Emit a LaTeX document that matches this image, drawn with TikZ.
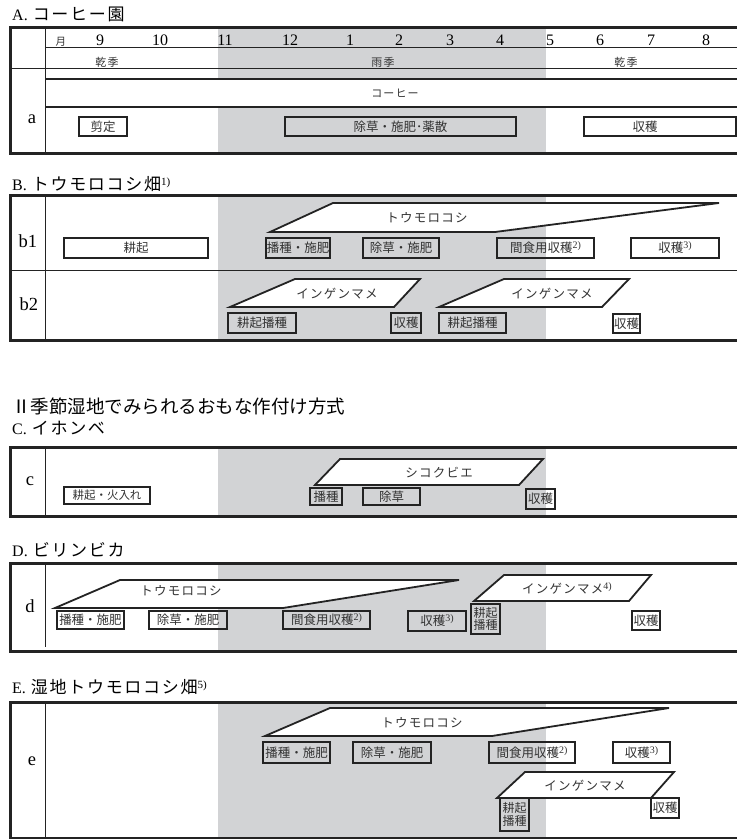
\documentclass[tikz,border=0pt]{standalone}
\usepackage{fontspec}
\setmainfont{Liberation Serif}
\newfontfamily\jp{Noto Sans CJK JP}
\newfontfamily\jpsp[LetterSpace=10]{Noto Sans CJK JP}
\definecolor{raingray}{RGB}{210,211,213}
\definecolor{ink}{RGB}{35,35,35}
\newcommand\fn[1]{{\rmfamily\raisebox{4pt}{\fontsize{10}{10}\selectfont #1}}}
\newcommand\tfn[1]{{\rmfamily\raisebox{5pt}{\fontsize{11}{11}\selectfont #1}}}
\newcommand\tbox[6]{\node[taskbox, minimum width=#4pt, minimum height=#5pt] (#1) at (#2,#3) {#6};}
\tikzset{
 frameline/.style={line width=3pt, draw=ink, line join=miter},
 thinline/.style={line width=0.8pt, draw=ink},
 barline/.style={line width=2pt, draw=ink},
 cropshape/.style={line width=1.8pt, draw=ink, fill=white, line join=miter},
 taskbox/.style={draw=ink, line width=1.1pt, inner sep=0pt, font=\jp\fontsize{12.5}{13}\selectfont, text=black!80, align=center},
 twoline/.style={font=\jp\fontsize{12}{12.5}\selectfont},
 croplabel/.style={font=\jpsp\fontsize{12.5}{13}\selectfont, text=black!80, inner sep=0pt},
 titletext/.style={anchor=west, inner sep=0pt, font=\fontsize{16}{18}\selectfont},
 rowlabel/.style={font=\fontsize{18.5}{20}\selectfont, inner sep=0pt, anchor=base},
 monthlabel/.style={font=\fontsize{16}{16}\selectfont, anchor=base, inner sep=0pt},
 season/.style={font=\jpsp\fontsize{11}{11}\selectfont, inner sep=0pt, text=black!80},
}
\newcommand\jt[1]{{\jpsp\fontsize{17}{18}\selectfont #1}}
\begin{document}
\begin{tikzpicture}[x=1pt,y=-1pt]
\useasboundingbox (0,0) rectangle (737,839);

% ================= A =================
\node[titletext] (titleA) at (12,14) {A.\hspace{5pt}\jt{コーヒー園}};
\fill[raingray] (218,27) rectangle (546,153);
\fill[white] (45,79) rectangle (737,107);
\draw[thinline] (45,27) -- (45,153);
\draw[thinline] (45,47) -- (737,47);
\draw[thinline] (10,68) -- (737,68);
\draw[barline] (45,79) -- (737,79);
\draw[barline] (45,107) -- (737,107);
\draw[frameline] (737,27) -- (10,27) -- (10,153) -- (737,153);

\node[monthlabel, font=\jp\fontsize{10.5}{10.5}\selectfont, text=black!80] (mTsuki) at (61,45) {月};
\node[monthlabel] (m9) at (100,45) {9};
\node[monthlabel] (m10) at (160,45) {10};
\node[monthlabel] (m11) at (225,45) {11};
\node[monthlabel] (m12) at (290,45) {12};
\node[monthlabel] (m1) at (350,45) {1};
\node[monthlabel] (m2) at (399,45) {2};
\node[monthlabel] (m3) at (450,45) {3};
\node[monthlabel] (m4) at (500,45) {4};
\node[monthlabel] (m5) at (550,45) {5};
\node[monthlabel] (m6) at (600,45) {6};
\node[monthlabel] (m7) at (651,45) {7};
\node[monthlabel] (m8) at (706,45) {8};

\node[season] (sDry1) at (107,62) {乾季};
\node[season] (sRain) at (383,62) {雨季};
\node[season] (sDry2) at (626,62) {乾季};

\node[season] (coffee) at (395,93) {コーヒー};

\node[rowlabel] (la) at (32,123) {a};
\tbox{aPrune}{103}{126.5}{48}{19}{剪定}
\tbox{aWeed}{400.5}{126.5}{231}{19}{除草・施肥･薬散}
\node[taskbox, minimum width=152pt, minimum height=19pt] (aHarvBox) at (660,126.5) {};
\node[taskbox, draw=none] (aHarv) at (645,126.5) {収穫};

% ================= B =================
\node[titletext] (titleB) at (12,184) {B.\hspace{5pt}\jt{トウモロコシ畑}\tfn{1)}};
\fill[raingray] (218,195) rectangle (546,340);
\draw[thinline] (45,195) -- (45,340);
\draw[thinline] (10,270) -- (737,270);
\draw[frameline] (737,195) -- (10,195) -- (10,340) -- (737,340);

\node[rowlabel] (lb1) at (28,247) {b1};
\node[rowlabel] (lb2) at (29,310) {b2};

\draw[cropshape] (270,232) -- (333,203) -- (719,203) -- (495,232) -- cycle;
\node[croplabel] (b1corn) at (427,218) {トウモロコシ};
\tbox{b1Plow}{136}{248}{144}{20}{耕起}
\tbox{b1Sow}{298}{248}{64}{20}{播種・施肥}
\tbox{b1Weed}{401}{248}{76}{20}{除草・施肥}
\tbox{b1Snack}{545.5}{248}{97}{20}{間食用収穫\fn{2)}}
\tbox{b1Harv}{675}{248}{88}{20}{収穫\fn{3)}}

\draw[cropshape] (230,307) -- (295,279) -- (420,279) -- (394,307) -- cycle;
\node[croplabel] (b2bean1) at (337,294) {インゲンマメ};
\draw[cropshape] (439,307) -- (504,279) -- (629,279) -- (602,307) -- cycle;
\node[croplabel] (b2bean2) at (552,294) {インゲンマメ};
\tbox{b2Sow1}{262}{323}{68}{20}{耕起播種}
\tbox{b2Harv1}{406}{323}{30}{20}{収穫}
\tbox{b2Sow2}{472.5}{323}{67}{20}{耕起播種}
\tbox{b2Harv2}{626.5}{323.5}{27}{19}{収穫}

% ================= II =================
\node[titletext, font=\jp\fontsize{18.5}{19}\selectfont] (titleII) at (12,406) {Ⅱ季節湿地でみられるおもな作付け方式};

% ================= C =================
\node[titletext] (titleC) at (12,428) {C.\hspace{5pt}\jt{イホンベ}};
\fill[raingray] (218,447) rectangle (546,516);
\draw[thinline] (45,447) -- (45,516);
\draw[frameline] (737,447) -- (10,447) -- (10,516) -- (737,516);
\node[rowlabel] (lc) at (30,485) {c};

\draw[cropshape] (315,485) -- (340,459) -- (543,459) -- (519,485) -- cycle;
\node[croplabel] (cMillet) at (439,473) {シコクビエ};
\tbox{cPlow}{107}{495.5}{86}{17}{\fontsize{11.5}{12}\selectfont 耕起・火入れ}
\tbox{cSow}{326}{496.5}{32}{17}{播種}
\tbox{cWeed}{391.5}{496.5}{57}{17}{除草}
\tbox{cHarv}{540.5}{499}{29}{20}{収穫}

% ================= D =================
\node[titletext] (titleD) at (12,550) {D.\hspace{5pt}\jt{ビリンビカ}};
\fill[raingray] (218,563) rectangle (546,651);
\draw[thinline] (45,563) -- (45,647);
\draw[frameline] (737,563) -- (10,563) -- (10,651) -- (737,651);
\node[rowlabel] (ld) at (30,612) {d};

\draw[cropshape] (55,608) -- (120,580) -- (459,580) -- (283,608) -- cycle;
\node[croplabel] (dCorn) at (181,591) {トウモロコシ};
\tbox{dSow}{90.5}{620}{67}{18}{播種・施肥}
\tbox{dWeed}{188}{620}{78}{18}{除草・施肥}
\tbox{dSnack}{326.5}{620}{87}{18}{間食用収穫\fn{2)}}
\tbox{dHarv}{437}{621}{58}{20}{収穫\fn{3)}}
\node[taskbox, twoline, minimum width=29pt, minimum height=30pt] (dPlowSow) at (485.5,619) {耕起\\播種};
\draw[cropshape] (474,601) -- (504,575) -- (651,575) -- (629,601) -- cycle;
\node[croplabel] (dBean) at (567,588) {インゲンマメ\fn{4)}};
\tbox{dHarv2}{646}{620.5}{28}{19}{収穫}

% ================= E =================
\node[titletext] (titleE) at (12,687) {E.\hspace{5pt}\jt{湿地トウモロコシ畑}\tfn{5)}};
\fill[raingray] (218,702) rectangle (546,838);
\draw[thinline] (45,702) -- (45,838);
\draw[frameline] (737,702) -- (10,702) -- (10,838) -- (737,838);
\node[rowlabel] (le) at (32,765) {e};

\draw[cropshape] (265,736) -- (330,708) -- (669,708) -- (492,736) -- cycle;
\node[croplabel] (eCorn) at (422,723) {トウモロコシ};
\tbox{eSow}{296.5}{752.5}{67}{21}{播種・施肥}
\tbox{eWeed}{392}{752.5}{78}{21}{除草・施肥}
\tbox{eSnack}{532}{752.5}{86}{21}{間食用収穫\fn{2)}}
\tbox{eHarv}{641.5}{752.5}{57}{21}{収穫\fn{3)}}
\draw[cropshape] (497,798) -- (525,772) -- (674,772) -- (651,798) -- cycle;
\node[croplabel] (eBean) at (585,786) {インゲンマメ};
\node[taskbox, twoline, minimum width=29pt, minimum height=33pt] (ePlowSow) at (514.5,814.5) {耕起\\播種};
\tbox{eHarv2}{665}{808}{28}{20}{収穫}
\end{tikzpicture}
\end{document}
